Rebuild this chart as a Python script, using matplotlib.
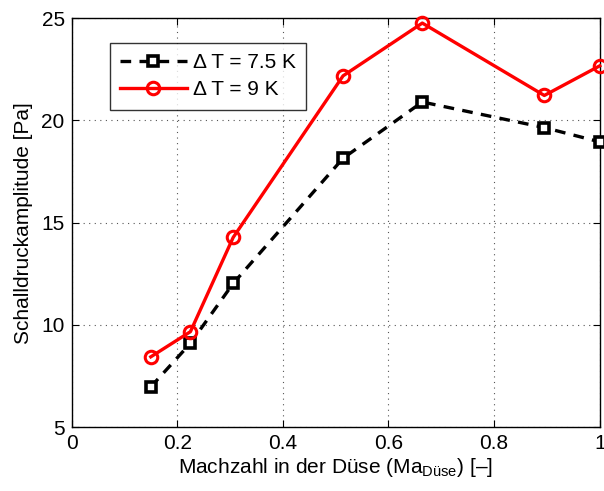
import matplotlib
matplotlib.use("Agg")
import matplotlib.pyplot as plt

plt.rcParams['font.family'] = ['Liberation Sans', 'DejaVu Sans']
plt.rcParams['mathtext.fontset'] = 'custom'
plt.rcParams['mathtext.rm'] = 'Liberation Sans'
plt.rcParams['mathtext.default'] = 'regular'

mach = [0.15, 0.225, 0.306, 0.514, 0.664, 0.895, 1.0]
dt75 = [6.97, 9.1, 12.03, 18.15, 20.9, 19.65, 18.95]
dt9 = [8.44, 9.67, 14.28, 22.18, 24.76, 21.22, 22.67]
labels = ['Δ T = 7.5 K', 'Δ T = 9 K']
xticks = [0, 0.2, 0.4, 0.6, 0.8, 1]
xticklabels = ['0', '0.2', '0.4', '0.6', '0.8', '1']
yticks = [5, 10, 15, 20, 25]

fig = plt.figure(figsize=(6.04, 4.91), dpi=100)
ax = fig.add_axes([0.1185, 0.130, 0.8745, 0.833])

ax.plot(mach, dt75, color='black', linestyle=(0, (3.2, 2.5)), linewidth=2.4,
        marker='s', markersize=7.5, markerfacecolor='white', markeredgecolor='black',
        markeredgewidth=2.6, clip_on=False, label=labels[0], zorder=3)
ax.plot(mach, dt9, color='#ff0000', linestyle='-', linewidth=2.4,
        marker='o', markersize=9, markerfacecolor='none', markeredgecolor='#ff0000',
        markeredgewidth=2.2, clip_on=False, label=labels[1], zorder=4)

ax.set_xlim(0, 1)
ax.set_ylim(5, 25)
ax.set_xticks(xticks)
ax.set_xticklabels(xticklabels)
ax.set_yticks(yticks)
ax.tick_params(direction='in', top=True, right=True, labelsize=15, length=5, width=0.8, pad=5)
ax.grid(True, linestyle=(0, (1, 4)), color='#555555', linewidth=0.8)
for s in ax.spines.values():
    s.set_linewidth(1.0)

ax.set_xlabel('Machzahl in der Düse (Ma$_{Düse}$) [–]', fontsize=15, labelpad=2)
ax.set_ylabel('Schalldruckamplitude [Pa]', fontsize=15, labelpad=6)

leg = ax.legend(loc='upper left', bbox_to_anchor=(0.072, 0.94), fontsize=15,
                frameon=True, fancybox=False, edgecolor='black', handlelength=3.2,
                handletextpad=0.3, borderpad=0.5, labelspacing=0.4, borderaxespad=0)
leg.get_frame().set_linewidth(1.0)

fig.savefig('out.png', dpi=100)
